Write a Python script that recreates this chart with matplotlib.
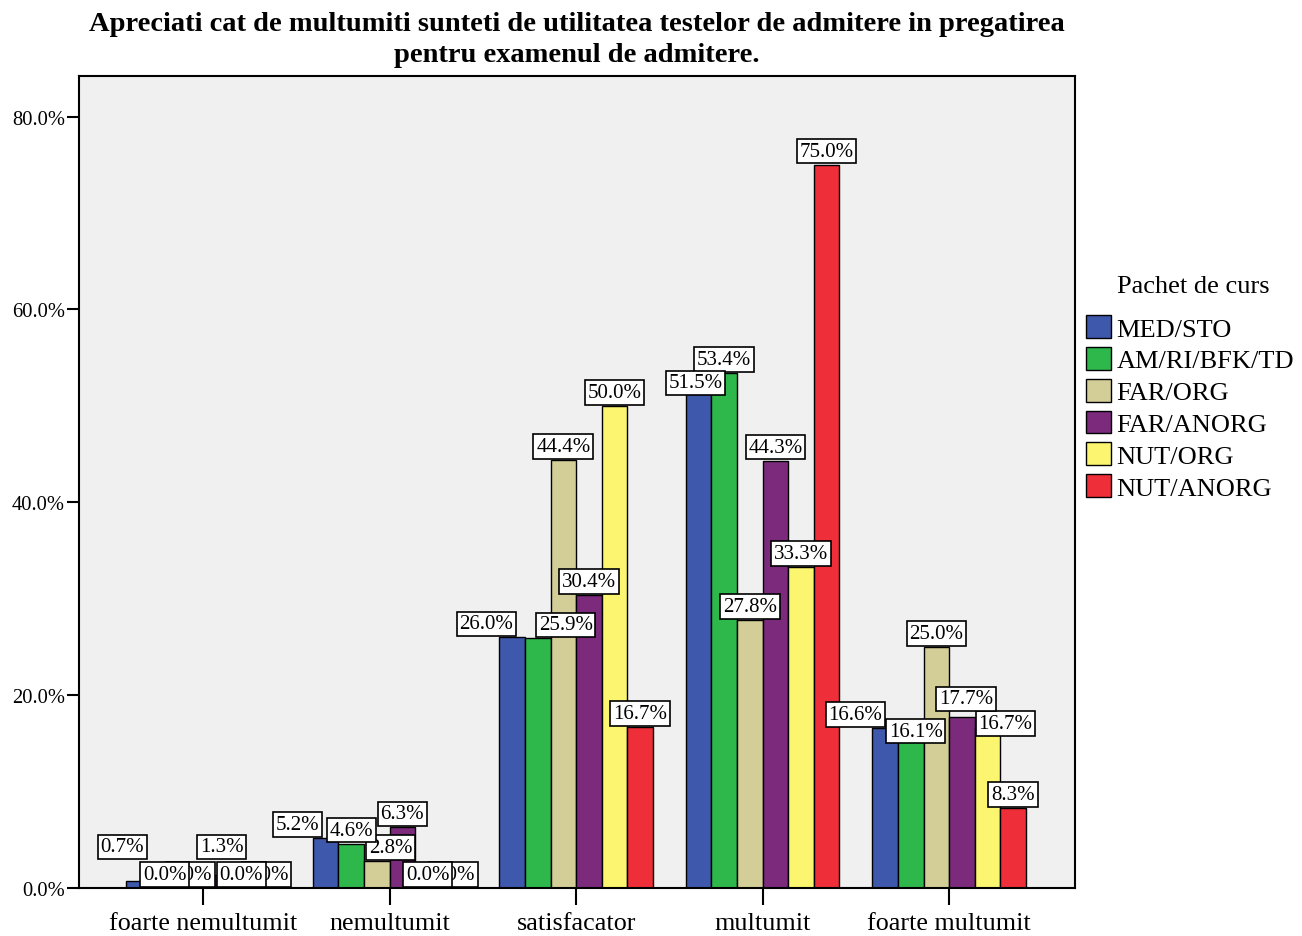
import numpy as np
import matplotlib
matplotlib.use('Agg')
import matplotlib.pyplot as plt

plt.rcParams['font.family'] = ['Liberation Serif', 'DejaVu Serif']

# Data (percent of each course package)
categories = ['foarte nemultumit', 'nemultumit', 'satisfacator', 'multumit', 'foarte multumit']
series_names = ['MED/STO', 'AM/RI/BFK/TD', 'FAR/ORG', 'FAR/ANORG', 'NUT/ORG', 'NUT/ANORG']
med_sto = [0.7, 5.2, 26.0, 51.5, 16.6]
am_ri = [0.0, 4.6, 25.9, 53.4, 16.1]
far_org = [0.0, 2.8, 44.4, 27.8, 25.0]
far_anorg = [1.3, 6.3, 30.4, 44.3, 17.7]
nut_org = [0.0, 0.0, 50.0, 33.3, 16.7]
nut_anorg = [0.0, 0.0, 16.7, 75.0, 8.3]
yticks = [0, 20, 40, 60, 80]
ytick_labels = ['0.0%', '20.0%', '40.0%', '60.0%', '80.0%']

colors = ['#3E58AC', '#2EB84B', '#D3CE97', '#7B2A7C', '#FBF570', '#EE2E38']
values = [med_sto, am_ri, far_org, far_anorg, nut_org, nut_anorg]

# label nudges (pixels) where SPSS moved overlapping labels
nudge = {(0, 0): (-17, 21), (0, 3): (6, 15),
         (1, 0): (-28, 0), (1, 2): (14, 0),
         (2, 0): (-26, 0), (2, 1): (28, 0),
         (3, 0): (-3, -5),
         (4, 0): (-30, 0), (4, 1): (5, -12), (4, 3): (4, 5), (4, 4): (18, -10)}

fig = plt.figure(figsize=(13.02, 9.37), dpi=100)
ax = fig.add_axes([79/1302, 1-889/937, (1075-79)/1302, (889-77)/937])
ax.set_facecolor('#F0F0F0')

x = np.arange(len(categories))
w = 0.137
for k, (name, vals, c) in enumerate(zip(series_names, values, colors)):
    pos = x + (k - 2.5) * w
    ax.bar(pos, vals, width=w, color=c, edgecolor='black', linewidth=1.0,
           label=name, zorder=2)
    for g, (px, v) in enumerate(zip(pos, vals)):
        dx, dy = nudge.get((g, k), (0, 0))
        ax.annotate(f'{v:.1f}%', xy=(px, v), xytext=(dx, dy + 4),
                    textcoords='offset pixels', ha='center', va='bottom',
                    fontsize=15, zorder=20 - k, annotation_clip=False,
                    bbox=dict(boxstyle='square,pad=0.13', fc='white',
                              ec='black', lw=1.2))

ax.set_xlim(-0.665, 4.675)
ax.set_ylim(0, 84.2)
ax.set_xticks(x)
ax.set_xticklabels(categories, fontsize=18.8)
ax.set_yticks(yticks)
ax.set_yticklabels(ytick_labels, fontsize=14.8)
ax.tick_params(axis='x', length=12, width=1.5, pad=5)
ax.tick_params(axis='y', length=9, width=1.5, pad=1)
for s in ax.spines.values():
    s.set_linewidth(1.5)

fig.text(577/1302, 1-12/937,
         'Apreciati cat de multumiti sunteti de utilitatea testelor de admitere in pregatirea\n'
         'pentru examenul de admitere.',
         ha='center', va='top', fontsize=20.5, fontweight='bold', linespacing=1.3)

fig.text(1193/1302, 1-287/937, 'Pachet de curs', ha='center', va='center',
         fontsize=19)
leg = fig.legend(loc='upper left', bbox_to_anchor=(1073/1302, 1-303/937),
                 frameon=False, fontsize=19,
                 handlelength=0.95, handleheight=0.95,
                 handletextpad=0.2, labelspacing=0.24, borderpad=0)

fig.savefig('out.png', dpi=100)
